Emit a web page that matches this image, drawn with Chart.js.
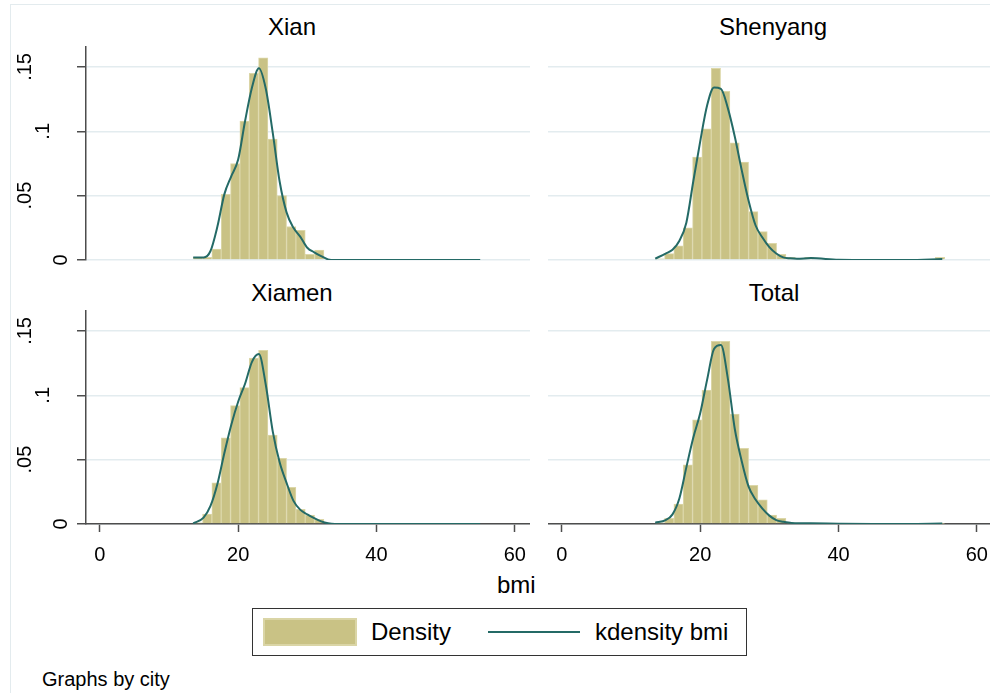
<!DOCTYPE html>
<html>
<head>
<meta charset="utf-8">
<script src="https://cdn.jsdelivr.net/npm/chart.js@4/dist/chart.umd.min.js"></script>
<style>
  body { margin: 0; background: #fff; font-family: "Liberation Sans", Arial, sans-serif; }
  #page { position: relative; width: 990px; height: 693px; overflow: hidden; }
  canvas { position: absolute; }
  .txt { position: absolute; color: #000; white-space: nowrap; }
  .title { font-size: 24px; line-height: 24px; width: 240px; text-align: center; }
  #frame { position: absolute; left: 10px; top: 4px; width: 1000px; height: 720px; border: 1px solid #e3ebee; }
  #legend { position: absolute; left: 252px; top: 608px; width: 493px; height: 46px; border: 1px solid #333; }
  #swatch { position: absolute; left: 10px; top: 9px; width: 90px; height: 24px; background: #c9c285; border: 2px solid #dad5a6; }
  #legline { position: absolute; left: 235px; top: 22px; width: 92px; height: 2px; background: #246a66; }
</style>
</head>
<body>
<div id="page">
  <div id="frame"></div>

  <div class="txt title" style="left:172px; top:15px;">Xian</div>
  <div class="txt title" style="left:653px; top:15px;">Shenyang</div>
  <div class="txt title" style="left:172px; top:281px;">Xiamen</div>
  <div class="txt title" style="left:654px; top:281px;">Total</div>

  <canvas id="cXian" width="520" height="225" style="left:10px; top:41px;"></canvas>
  <canvas id="cShenyang" width="442" height="225" style="left:548px; top:41px;"></canvas>
  <canvas id="cXiamen" width="520" height="264" style="left:10px; top:305px;"></canvas>
  <canvas id="cTotal" width="442" height="264" style="left:548px; top:305px;"></canvas>

  <div class="txt" style="left:497px; top:573px; font-size:24px; line-height:24px;">bmi</div>

  <div id="legend">
    <div id="swatch"></div>
    <div class="txt" style="left:118px; top:11px; font-size:24px; line-height:24px;">Density</div>
    <div id="legline"></div>
    <div class="txt" style="left:342px; top:11px; font-size:24px; line-height:24px;">kdensity bmi</div>
  </div>

  <div class="txt" style="left:42px; top:669px; font-size:20px; line-height:20px;">Graphs by city</div>
</div>

<script>
// histogram bins (same edges in every panel)
const binStart = 13.5;
const binWidth = 1.35;

const xianHist = [0.002, 0.002, 0.0085, 0.051, 0.075, 0.108, 0.145, 0.157, 0.094, 0.050, 0.026, 0.023, 0.0044, 0.0078,
  0, 0, 0, 0, 0, 0, 0, 0, 0, 0, 0, 0, 0, 0, 0, 0, 0];
const shenyangHist = [0.001, 0.005, 0.011, 0.025, 0.080, 0.102, 0.149, 0.131, 0.091, 0.076, 0.0376, 0.022, 0.013, 0.0044, 0.002, 0.001, 0.002,
  0, 0, 0, 0, 0, 0, 0, 0, 0, 0, 0, 0, 0, 0.002];
const xiamenHist = [0.001, 0.0078, 0.032, 0.067, 0.092, 0.106, 0.129, 0.135, 0.069, 0.051, 0.0285, 0.0114, 0.007, 0.0036,
  0, 0, 0, 0, 0, 0, 0, 0, 0, 0, 0, 0, 0, 0, 0, 0, 0];
const totalHist = [0.001, 0.0044, 0.0155, 0.046, 0.081, 0.104, 0.142, 0.142, 0.0855, 0.0588, 0.030, 0.0187, 0.007, 0.0044, 0.001, 0.0005, 0.0005,
  0, 0, 0, 0, 0, 0, 0, 0, 0, 0, 0, 0, 0, 0.0005];

// kernel density
const kdX = [13.5, 15, 16, 17, 18, 19, 20, 21, 22, 23, 24, 25, 26, 27, 28, 29, 30, 31, 32, 33, 34, 36, 40, 45, 50, 55];
const xianKd = [0.002, 0.002, 0.007, 0.026, 0.051, 0.065, 0.078, 0.108, 0.134, 0.149, 0.133, 0.099, 0.061, 0.037, 0.025, 0.018, 0.0095, 0.006, 0.003, 0.0005, 0, 0, 0, 0, 0, 0];
const shenyangKd = [0.001, 0.005, 0.008, 0.015, 0.029, 0.061, 0.092, 0.12, 0.134, 0.133, 0.118, 0.096, 0.070, 0.046, 0.027, 0.0175, 0.010, 0.005, 0.002, 0.0013, 0.001, 0.0015, 0.0002, 0, 0, 0.0008];
const xiamenKd = [0.0005, 0.005, 0.014, 0.031, 0.055, 0.077, 0.095, 0.109, 0.126, 0.132, 0.108, 0.072, 0.048, 0.032, 0.018, 0.011, 0.0075, 0.0045, 0.002, 0.0005, 0, 0, 0, 0, 0, 0];
const totalKd = [0.001, 0.003, 0.0075, 0.02, 0.044, 0.067, 0.086, 0.112, 0.136, 0.139, 0.113, 0.074, 0.049, 0.029, 0.019, 0.012, 0.0065, 0.003, 0.0018, 0.001, 0.0005, 0.0005, 0.0002, 0, 0, 0.0003];

const xTicks = [0, 20, 40, 60];
const yTicks = [0, 0.05, 0.1, 0.15];
const yTickLabels = ['0', '.05', '.1', '.15'];

const FONT = '"Liberation Sans", Arial, sans-serif';
const AXIS = '#4d4d4d';
const GRID = '#e3ecef';

// Stata-style rotated y labels, x offsets differ per label
const yLabelX = [51, 15.5, 33.5, 15.5];
const rotatedYLabels = {
    id: 'rotatedYLabels',
    afterDraw(chart, args, opts) {
        if (!opts.on) return;
        const s = chart.scales.y;
        const ctx = chart.ctx;
        ctx.save();
        ctx.fillStyle = '#000';
        ctx.font = '20px ' + FONT;
        ctx.textAlign = 'center';
        ctx.textBaseline = 'middle';
        s.ticks.forEach((t, i) => {
            ctx.save();
            ctx.translate(yLabelX[i], s.getPixelForValue(t.value));
            ctx.rotate(-Math.PI / 2);
            ctx.fillText(yTickLabels[i], 0, 0);
            ctx.restore();
        });
        ctx.restore();
    }
};

function makePanel(id, hist, kd, showY, showX, xMax) {
    const bars = hist.map((v, i) => ({ x: binStart + binWidth * (i + 0.5), y: v }));
    const curve = kdX.map((x, i) => ({ x: x, y: kd[i] }));

    new Chart(document.getElementById(id), {
        type: 'bar',
        data: {
            datasets: [
                {
                    type: 'line', data: curve, order: 0,
                    borderColor: '#246a66', borderWidth: 2, pointRadius: 0,
                    cubicInterpolationMode: 'monotone', fill: false
                },
                {
                    type: 'bar', data: bars, order: 1,
                    backgroundColor: '#c9c285', borderColor: '#dcd7a9', borderWidth: 1,
                    barPercentage: 1, categoryPercentage: 1, grouped: false
                }
            ]
        },
        options: {
            responsive: false,
            animation: false,
            devicePixelRatio: 1,
            layout: { padding: { top: 6, bottom: showX ? 0 : 6, left: 0, right: 0 } },
            plugins: {
                legend: { display: false },
                tooltip: { enabled: false },
                rotatedYLabels: { on: showY }
            },
            scales: {
                x: {
                    type: 'linear',
                    display: showX,
                    min: -2, max: xMax,
                    offset: false,
                    afterBuildTicks: s => { s.ticks = xTicks.map(v => ({ value: v })); },
                    afterFit: s => {
                        s.height = showX ? 45 : 0;
                        s.paddingLeft = 0;
                        s.paddingRight = 0;
                    },
                    border: { color: AXIS, width: 1.5 },
                    grid: { offset: false, drawOnChartArea: false, drawTicks: true, tickLength: 8, tickColor: AXIS, tickWidth: 1.5 },
                    ticks: { color: '#000', font: { family: FONT, size: 20 }, padding: 11, maxRotation: 0 }
                },
                y: {
                    min: 0, max: 0.1655,
                    afterBuildTicks: s => { s.ticks = yTicks.map(v => ({ value: v })); },
                    afterFit: s => { s.width = showY ? 76 : 0; },
                    border: { display: showY, color: AXIS, width: 1.5 },
                    grid: { color: GRID, lineWidth: 1.5, drawTicks: showY, tickLength: 9, tickColor: AXIS, tickWidth: 1.5 },
                    ticks: { display: false }
                }
            }
        },
        plugins: [rotatedYLabels]
    });
}

makePanel('cXian', xianHist, xianKd, true, false, 62.2);
makePanel('cShenyang', shenyangHist, shenyangKd, false, false, 61.9);
makePanel('cXiamen', xiamenHist, xiamenKd, true, true, 62.2);
makePanel('cTotal', totalHist, totalKd, false, true, 61.9);
</script>
</body>
</html>
